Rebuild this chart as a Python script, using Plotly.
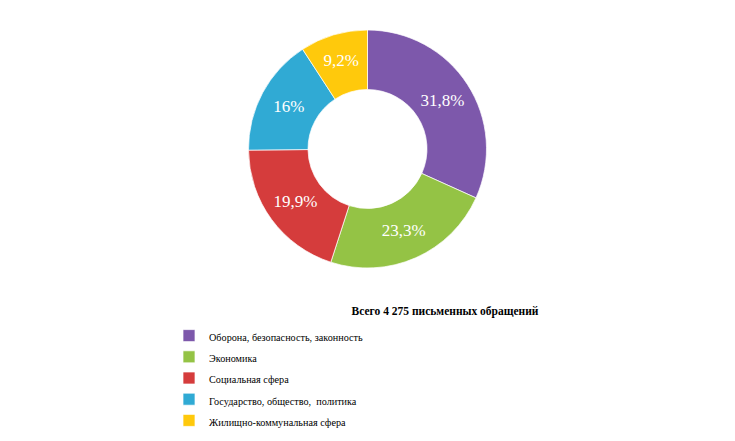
import plotly.graph_objects as go

# categories and their shares (in percent)
categories = [
    "Оборона, безопасность, законность",
    "Экономика",
    "Социальная сфера",
    "Государство, общество,  политика",
    "Жилищно-коммунальная сфера",
]
shares = [31.8, 23.3, 19.9, 16, 9.2]
colors = ["#7d58ab", "#94c345", "#d53c3c", "#30aad4", "#ffc90c"]
title_text = "Всего 4 275 письменных обращений"

# smaller text inside a larger legend font keeps the wide row spacing
legend_labels = ['<span style="font-size:10.2px">%s</span>' % c for c in categories]

fig = go.Figure()

fig.add_trace(go.Pie(
    labels=legend_labels,
    values=shares,
    sort=False,
    direction="clockwise",
    rotation=0,
    hole=0.5,
    marker=dict(colors=colors,
                line=dict(color="rgba(255,255,255,0.7)", width=1)),
    texttemplate="%{value}%",
    textposition="inside",
    insidetextorientation="horizontal",
    textfont=dict(family="Liberation Serif", size=17, color="white"),
    domain=dict(x=[248 / 735, 487 / 735], y=[1 - 268 / 441, 1 - 30 / 441]),
    hoverinfo="label+percent",
))

fig.update_layout(
    width=735,
    height=441,
    margin=dict(l=0, r=0, t=0, b=0),
    paper_bgcolor="white",
    plot_bgcolor="white",
    separators=", ",
    title=dict(text="<b>%s</b>" % title_text,
               font=dict(family="Liberation Serif", size=11.5, color="black"),
               x=445 / 735, xanchor="center",
               y=1 - 311 / 441, yanchor="middle"),
    legend=dict(x=169 / 735, xanchor="left",
                y=1 - 320 / 441, yanchor="top",
                font=dict(family="Liberation Serif", size=14, color="black"),
                bgcolor="rgba(0,0,0,0)"),
    showlegend=True,
)

# drop the default page margin so the figure sits at the window corner
fig.write_html("out.html",
               config={"displayModeBar": False},
               post_script="document.body.style.margin='0';")
